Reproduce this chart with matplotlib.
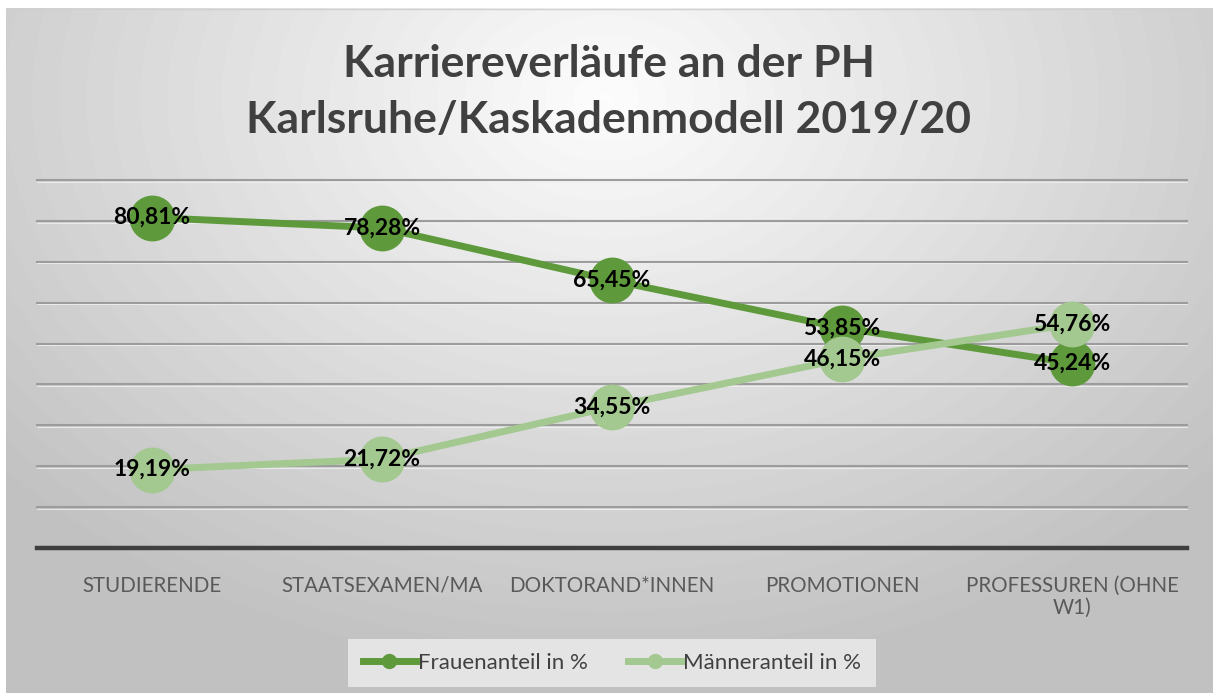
import numpy as np
import matplotlib.pyplot as plt
from matplotlib.lines import Line2D

# data
categories = ["STUDIERENDE", "STAATSEXAMEN/MA", "DOKTORAND*INNEN", "PROMOTIONEN", "PROFESSUREN (OHNE\nW1)"]
frauen = [80.81, 78.28, 65.45, 53.85, 45.24]
maenner = [19.19, 21.72, 34.55, 46.15, 54.76]
frauen_labels = ["80,81%", "78,28%", "65,45%", "53,85%", "45,24%"]
maenner_labels = ["19,19%", "21,72%", "34,55%", "46,15%", "54,76%"]

dark_green = "#5e9a3b"
light_green = "#a3c890"

plt.rcParams['font.family'] = ['Lato', 'DejaVu Sans']

W, H = 1213, 693
fig = plt.figure(figsize=(W / 100, H / 100), dpi=100)

# radial grey background (chart area starts a few px in from top/left)
bg = fig.add_axes([6 / W, 0, 1 - 6 / W, 1 - 8 / H])
yy, xx = np.mgrid[0:685, 0:1207]
d = np.sqrt(((xx - 600) / 900.0) ** 2 + ((yy - 90) / 650.0) ** 2)
shade = np.clip(0.99 - 0.26 * d, 0.76, 1.0)
bg.imshow(shade, cmap="gray", vmin=0, vmax=1, aspect="auto", extent=[0, 1, 0, 1], origin="upper")
bg.axis("off")
fig.add_artist(Line2D([6 / W, 1], [1 - 8.5 / H, 1 - 8.5 / H], color="#d0d0d0", lw=1))

ax = fig.add_axes([37 / W, 1 - 548 / H, 1150 / W, 368 / H])
ax.set_facecolor("none")
x = np.arange(len(categories))
ax.set_xlim(-0.5, len(categories) - 0.5)
ax.set_ylim(0, 90)

for g in range(10, 91, 10):
    ax.axhline(g, color="#9c9c9c", lw=1.5, zorder=1, clip_on=False)
    ax.axhline(g - 0.4, color="#f0f0f0", lw=0.6, zorder=1, clip_on=False)
ax.axhline(0, color="#3f3f3f", lw=3.2, zorder=2, clip_on=False)

ax.plot(x, frauen, color=dark_green, lw=5, marker="o", ms=32, zorder=3)
ax.plot(x, maenner, color=light_green, lw=5, marker="o", ms=32, zorder=4)

for xi, v, t in zip(x, frauen, frauen_labels):
    ax.text(xi, v, t, ha="center", va="center", fontsize=16.5, fontweight="bold", color="black", zorder=6)
for xi, v, t in zip(x, maenner, maenner_labels):
    ax.text(xi, v, t, ha="center", va="center", fontsize=16.5, fontweight="bold", color="black", zorder=6)

for s in ax.spines.values():
    s.set_visible(False)
ax.set_yticks([])
ax.set_xticks(x)
ax.set_xticklabels(categories, fontsize=14.8, color="#595959", linespacing=1.1)
ax.tick_params(axis="x", length=0, pad=20)

fig.text(0.502, 1 - 92 / H, "Karriereverläufe an der PH\nKarlsruhe/Kaskadenmodell 2019/20",
         ha="center", va="center", fontsize=32, fontweight="bold", color="#404040", linespacing=1.5)

# legend
handles = [Line2D([], [], color=dark_green, lw=5, marker="o", ms=10),
           Line2D([], [], color=light_green, lw=5, marker="o", ms=10)]
leg = fig.legend(handles, ["Frauenanteil in %", "Männeranteil in %"], loc="center",
                 bbox_to_anchor=(612 / W, 1 - 663 / H), ncol=2, fontsize=16, frameon=True,
                 fancybox=False, handlelength=2.4, handletextpad=0.1, columnspacing=1.8,
                 borderpad=0.65, borderaxespad=0)
leg.get_frame().set_facecolor("#e4e4e4")
leg.get_frame().set_edgecolor("none")
leg.get_frame().set_alpha(1)
for t in leg.get_texts():
    t.set_color("#404040")

fig.savefig("out.png", dpi=100)
